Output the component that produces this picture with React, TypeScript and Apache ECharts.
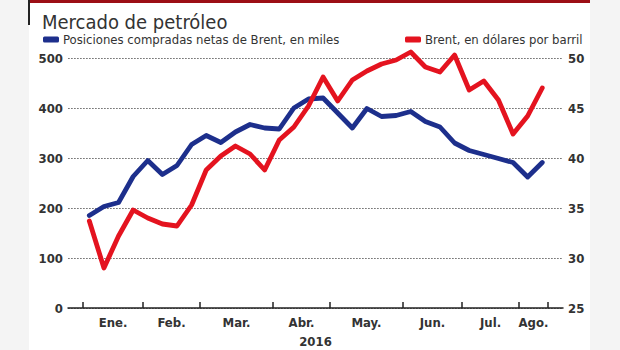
import React, { useEffect, useRef } from "react";
import * as echarts from "echarts";

// Weekly values, 2016 (one value per week, index 0..31)
const netLongPositions = [
  185, 203, 211, 263, 295, 267, 285, 327, 345, 331,
  352, 367, 360, 358, 400, 418, 420, 390, 360, 399,
  383, 385, 393, 373, 362, 330, 315, 307, 299, 291,
  262, 291,
];
const brentPrice = [
  33.7, 29.0, 32.2, 34.8, 34.0, 33.4, 33.2, 35.3, 38.8, 40.2,
  41.2, 40.4, 38.8, 41.8, 43.1, 45.2, 48.1, 45.7, 47.8, 48.7,
  49.4, 49.8, 50.6, 49.1, 48.6, 50.3, 46.8, 47.7, 45.8, 42.4,
  44.2, 47.0,
];
const monthLabels = ["Ene.", "Feb.", "Mar.", "Abr.", "May.", "Jun.", "Jul.", "Ago."];
// month boundaries expressed in week-index units
const monthBoundaries = [-0.43, 3.67, 7.58, 12.57, 16.47, 21.46, 25.51, 29.41, 31.39];
const yearLabel = "2016";
const titleText = "Mercado de petróleo";
const seriesNames = ["Posiciones compradas netas de Brent, en miles", "Brent, en dólares por barril"];

const FONT = "'Liberation Sans Narrow', 'Arial Narrow', 'DejaVu Sans Condensed', sans-serif";
const BLUE = "#1d2f8c";
const RED = "#e4131f";
const GRID_STYLE = { color: "#7a7a7a", type: [1.5, 1.5], width: 1.2 };

export default function App() {
  const ref = useRef<HTMLDivElement>(null);

  useEffect(() => {
    document.body.style.margin = "0";
    if (!ref.current) return;
    const chart = echarts.init(ref.current, undefined, { renderer: "svg" });
    const mids = monthLabels.map((_, i) => (monthBoundaries[i] + monthBoundaries[i + 1]) / 2);

    chart.setOption({
      animation: false,
      backgroundColor: "transparent",
      textStyle: { fontFamily: FONT },
      graphic: [
        { type: "rect", shape: { x: 29, y: 0, width: 561, height: 3 }, style: { fill: "#9c0f16" } },
        { type: "rect", shape: { x: 28, y: 0, width: 2, height: 25 }, style: { fill: "#222" } },
        {
          type: "text",
          left: 42,
          top: 12,
          style: { text: titleText, font: `normal 20px ${FONT}`, fill: "#333" },
        },
      ],
      legend: [
        {
          data: [seriesNames[0]],
          left: 43,
          top: 33,
          padding: 0,
          icon: "roundRect",
          itemWidth: 16,
          itemHeight: 6,
          textStyle: { fontSize: 13, color: "#333", fontFamily: FONT, padding: [0, 0, 0, -1] },
        },
        {
          data: [seriesNames[1]],
          left: 405,
          top: 33,
          padding: 0,
          icon: "roundRect",
          itemWidth: 16,
          itemHeight: 6,
          textStyle: { fontSize: 13, color: "#333", fontFamily: FONT, padding: [0, 0, 0, -1] },
        },
      ],
      grid: { left: 68, right: 57, top: 58, bottom: 42, containLabel: false, outerBoundsMode: "none" },
      xAxis: {
        type: "value",
        min: -1.46,
        max: 32.42,
        splitLine: { show: false },
        axisLine: { show: true, lineStyle: { color: "#222", width: 1.5 } },
        axisTick: {
          show: true,
          inside: true,
          length: 6,
          customValues: monthBoundaries,
          lineStyle: { color: "#222", width: 1.5 },
        },
        axisLabel: {
          customValues: mids,
          margin: 8,
          fontSize: 13,
          fontWeight: "bold",
          color: "#333",
          fontFamily: FONT,
          formatter: (v: number) => {
            let best = 0;
            mids.forEach((m, i) => {
              if (Math.abs(m - v) < Math.abs(mids[best] - v)) best = i;
            });
            return monthLabels[best];
          },
        },
        name: yearLabel,
        nameLocation: "middle",
        nameGap: 27,
        nameTextStyle: { fontSize: 13, fontWeight: "bold", color: "#333", fontFamily: FONT },
      },
      yAxis: [
        {
          type: "value",
          min: 0,
          max: 500,
          interval: 100,
          axisLine: { show: false },
          axisTick: { show: false },
          axisLabel: { margin: 5, fontSize: 13, fontWeight: "bold", color: "#333", fontFamily: FONT },
          splitLine: { show: true, lineStyle: GRID_STYLE },
        },
        {
          type: "value",
          min: 25,
          max: 50,
          interval: 5,
          position: "right",
          axisLine: { show: false },
          axisTick: { show: false },
          axisLabel: { margin: 5, fontSize: 13, fontWeight: "bold", color: "#333", fontFamily: FONT },
          splitLine: { show: true, lineStyle: GRID_STYLE },
        },
      ],
      series: [
        {
          name: seriesNames[0],
          type: "line",
          yAxisIndex: 0,
          data: netLongPositions.map((v, i) => [i, v]),
          showSymbol: false,
          clip: false,
          color: BLUE,
          lineStyle: { color: BLUE, width: 4.8, join: "round", cap: "round" },
          z: 2,
        },
        {
          name: seriesNames[1],
          type: "line",
          yAxisIndex: 1,
          data: brentPrice.map((v, i) => [i, v]),
          showSymbol: false,
          clip: false,
          color: RED,
          lineStyle: { color: RED, width: 4.8, join: "round", cap: "round" },
          z: 3,
        },
      ],
    });

    return () => chart.dispose();
  }, []);

  return (
    <div
      style={{
        width: 620,
        height: 350,
        background:
          "linear-gradient(to right, #f4f4f4 29px, #ffffff 29px, #ffffff 590px, #f4f4f4 590px)",
      }}
    >
      <div ref={ref} style={{ width: 620, height: 350 }} />
    </div>
  );
}
